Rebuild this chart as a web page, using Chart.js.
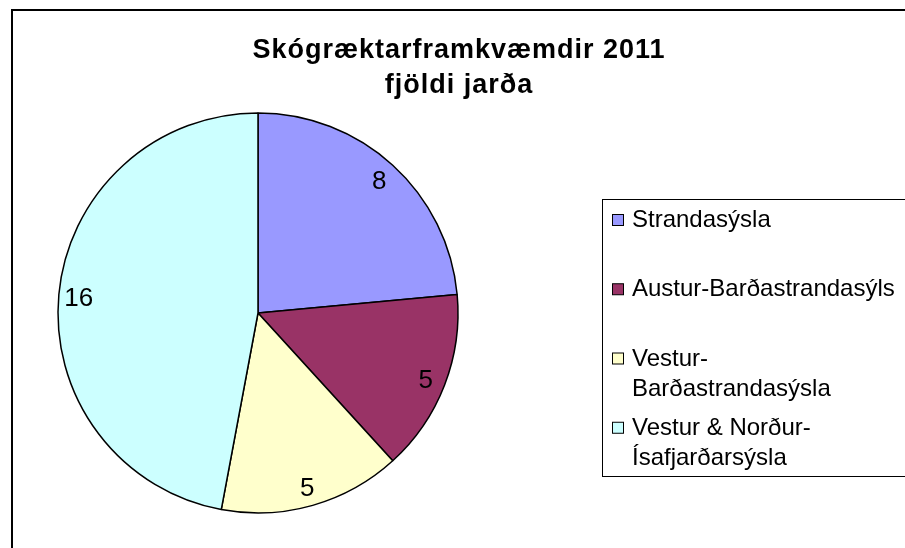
<!DOCTYPE html>
<html>
<head>
<meta charset="utf-8">
<title>Skógræktarframkvæmdir 2011</title>
<script src="https://cdn.jsdelivr.net/npm/chart.js@4.4.0/dist/chart.umd.min.js"></script>
<style>
  html, body { margin: 0; padding: 0; background: #fff; }
  canvas { display: block; }
</style>
</head>
<body>
<canvas id="pieChart" width="905" height="548"></canvas>
<script>
const titleLines = ["Skógræktarframkvæmdir 2011", "fjöldi jarða"];

const categories = [
  "Strandasýsla",
  "Austur-Barðastrandasýls",
  "Vestur-Barðastrandasýsla",
  "Vestur & Norður-Ísafjarðarsýsla",
];

const farmCounts = [8, 5, 5, 16];

const sliceColors = ["#9999ff", "#993366", "#ffffcc", "#ccffff"];

const FONT = "'Liberation Sans', Arial, sans-serif";

// split a label at spaces / hyphens so that it fits the legend width
function wrapLabel(ctx, text, maxWidth) {
  const parts = text.match(/[^\s-]+-?\s*/g) || [text];
  const lines = [];
  let current = "";
  parts.forEach((part) => {
    const test = current + part;
    if (current && ctx.measureText(test.trim()).width > maxWidth) {
      lines.push(current.trim());
      current = part;
    } else {
      current = test;
    }
  });
  if (current.trim()) {
    lines.push(current.trim());
  }
  return lines;
}

const chartFrame = {
  id: "chartFrame",
  beforeDraw(chart) {
    const ctx = chart.ctx;
    ctx.save();
    ctx.fillStyle = "#fff";
    ctx.fillRect(0, 0, chart.width, chart.height);
    ctx.strokeStyle = "#000";
    ctx.lineWidth = 2;
    ctx.strokeRect(12, 10, chart.width + 50, chart.height + 50);
    ctx.restore();
  },
};

const chartTitle = {
  id: "chartTitle",
  afterDraw(chart) {
    const ctx = chart.ctx;
    ctx.save();
    ctx.fillStyle = "#000";
    ctx.font = "bold 27px " + FONT;
    ctx.letterSpacing = "1px";
    ctx.textAlign = "center";
    ctx.textBaseline = "alphabetic";
    titleLines.forEach((line, i) => {
      ctx.fillText(line, 459, 58 + i * 35);
    });
    ctx.restore();
  },
};

const sliceLabels = {
  id: "sliceLabels",
  afterDatasetsDraw(chart) {
    const ctx = chart.ctx;
    const meta = chart.getDatasetMeta(0);
    const values = chart.data.datasets[0].data;
    ctx.save();
    ctx.fillStyle = "#000";
    ctx.font = "26px " + FONT;
    ctx.textAlign = "center";
    ctx.textBaseline = "alphabetic";
    meta.data.forEach((arc, i) => {
      const p = arc.getProps(["x", "y", "startAngle", "endAngle", "outerRadius"], true);
      const mid = (p.startAngle + p.endAngle) / 2;
      const r = p.outerRadius * 0.9;
      const x = p.x + Math.cos(mid) * r;
      const y = p.y + Math.sin(mid) * r;
      ctx.fillText(String(values[i]), x, y + 9.5);
    });
    ctx.restore();
  },
};

const sideLegend = {
  id: "sideLegend",
  afterDraw(chart) {
    const ctx = chart.ctx;
    const labels = chart.data.labels;
    const colors = chart.data.datasets[0].backgroundColor;
    const box = { left: 602, top: 199, bottom: 476 };
    const slot = (box.bottom - box.top) / labels.length;

    ctx.save();
    ctx.strokeStyle = "#000";
    ctx.lineWidth = 1;
    ctx.strokeRect(box.left + 0.5, box.top + 0.5, chart.width, box.bottom - box.top);

    ctx.font = "24px " + FONT;
    ctx.textAlign = "left";
    ctx.textBaseline = "alphabetic";
    labels.forEach((label, i) => {
      const baseline = box.top + slot * i + 28;
      ctx.fillStyle = colors[i];
      ctx.fillRect(612.5, baseline - 12.5, 11, 11);
      ctx.strokeStyle = "#000";
      ctx.strokeRect(612.5, baseline - 12.5, 11, 11);

      ctx.fillStyle = "#000";
      wrapLabel(ctx, label, 270).forEach((line, j) => {
        ctx.fillText(line, 632, baseline + j * 30);
      });
    });
    ctx.restore();
  },
};

function initPieChart() {
  const ctx = document.getElementById("pieChart");
  if (!ctx || !window.Chart) {
    return;
  }

  new Chart(ctx, {
    type: "pie",
    data: {
      labels: categories,
      datasets: [
        {
          data: farmCounts,
          backgroundColor: sliceColors,
          borderColor: "#000",
          borderWidth: 1.5,
          hoverBorderWidth: 1.5,
        },
      ],
    },
    options: {
      responsive: false,
      animation: false,
      events: [],
      radius: 200,
      layout: {
        padding: { left: 50, right: 439, top: 105, bottom: 27 },
      },
      plugins: {
        legend: { display: false },
        title: { display: false },
        tooltip: { enabled: false },
      },
    },
    plugins: [chartFrame, sliceLabels, chartTitle, sideLegend],
  });
}

initPieChart();
</script>
</body>
</html>
